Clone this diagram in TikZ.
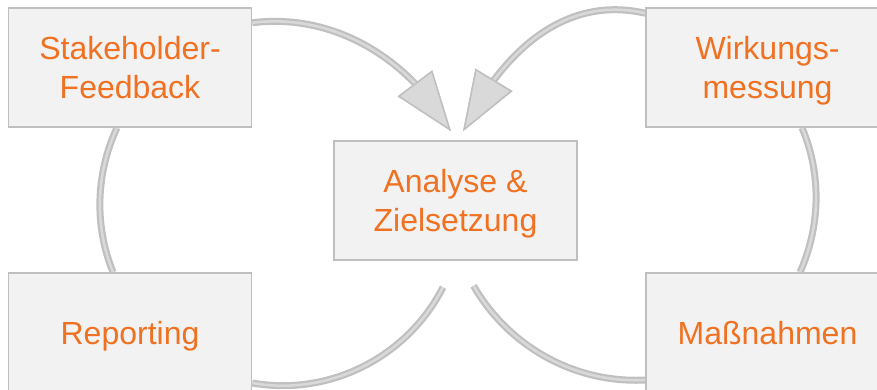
\documentclass[tikz,border=0pt]{standalone}
\usepackage{fontspec}
\setmainfont{Liberation Sans}
\usepackage{tikz}
\usetikzlibrary{positioning,arrows.meta,bending,backgrounds}
\definecolor{boxgray}{RGB}{242,242,242}
\definecolor{rimgray}{RGB}{191,191,191}
\definecolor{ringgray}{RGB}{192,192,192}
\definecolor{ringlight}{RGB}{217,217,217}
\definecolor{myorange}{RGB}{240,113,33}
\tikzset{
  stage/.style    = {rectangle, draw=rimgray, fill=boxgray, line width=1.5pt,
                     minimum width=243pt, minimum height=119pt, inner sep=0pt,
                     align=center, text depth=0pt, text=myorange,
                     font=\fontsize{32}{39}\selectfont},
  loopline/.style = {draw=ringgray, line width=7pt,
                     postaction={draw=ringlight, line width=2.5pt}},
  tipin/.style    = {-{Triangle[flex, length=60pt 0 0, width=43pt 0 0,
                     line width=1.5pt 0 0, color=ringgray, fill=ringlight]}}
}

\begin{document}
\begin{tikzpicture}[x=1pt, y=1pt]
  \useasboundingbox (0,0) rectangle (877,389);
  % five stages
  \node[stage] (sf)  at (130,321.5)   {Stakeholder-\\Feedback};
  \node[stage] (wm)  at (767.5,321.5) {Wirkungs-\\messung};
  \node[stage] (an)  at (455.5,188.5) {Analyse \&\\Zielsetzung};
  \node[stage] (rep) at (130,56.5)    {Reporting};
  \node[stage] (mn)  at (767.5,56.5)  {Maßnahmen};
  % loose ends next to the centre box
  \coordinate (inL)  at ([shift={(-4.5,9)}]an.north);
  \coordinate (inR)  at ([shift={(7.5,9)}]an.north);
  \coordinate (outL) at ([shift={(-12.5,-26.5)}]an.south);
  \coordinate (outR) at ([shift={(18,-25)}]an.south);
  \begin{scope}[on background layer]
    % left loop
    \draw[loopline, tipin] ([yshift=-15.5pt]sf.north east)
      to[out=7, in=120, looseness=0.94] (inL);
    \draw[loopline] ([xshift=-13pt]sf.south)
      to[out=245, in=112, looseness=0.89] ([xshift=-17pt]rep.north);
    \draw[loopline] (outL)
      to[out=243, in=350, looseness=0.94] ([yshift=-50.5pt]rep.east);
    % right loop
    \draw[loopline, tipin] ([yshift=-6pt]wm.north west)
      to[out=167, in=64, looseness=1] (inR);
    \draw[loopline] ([xshift=34.5pt]wm.south)
      to[out=293, in=66, looseness=0.89] ([xshift=32.5pt]mn.north);
    \draw[loopline] (outR)
      to[out=300, in=183, looseness=0.92] ([yshift=-47.5pt]mn.west);
  \end{scope}
\end{tikzpicture}
\end{document}
